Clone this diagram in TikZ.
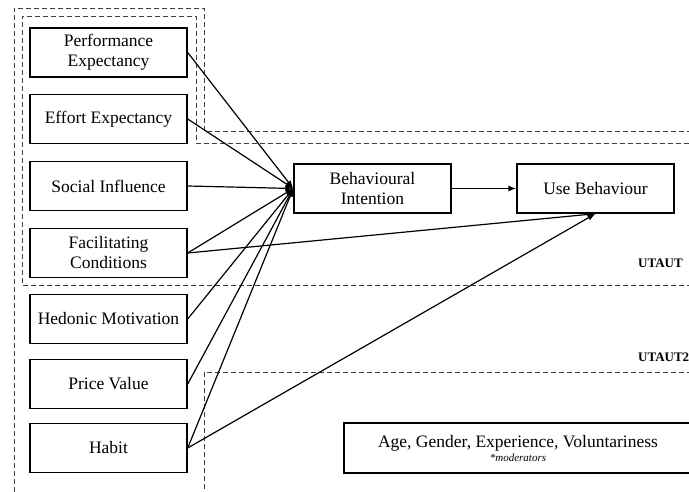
\documentclass[tikz,border=0pt]{standalone}
\usepackage{fontspec}
\setmainfont{Liberation Serif}
\usetikzlibrary{arrows.meta}

\begin{document}
\begin{tikzpicture}[x=1pt,y=-1pt,
    box/.style={draw,line width=1.4pt,minimum width=157pt,minimum height=49pt,align=center,inner sep=2pt,font=\fontsize{17.5}{20}\selectfont},
    link/.style={line width=1.2pt,-{Latex[length=8pt,width=6pt]}},
    zone/.style={draw=black!75,dash pattern=on 5pt off 3pt,line width=0.8pt},
    tag/.style={anchor=west,inner sep=0pt,font=\bfseries\fontsize{13}{15}\selectfont}]
  \useasboundingbox (0,0) rectangle (689,492);
  \clip (0,0) rectangle (689,492);

  % model outlines
  \draw [zone] (14,500) -- (14,8) -- (204,8) -- (204,131) -- (700,131);
  \draw [zone] (700,372) -- (204,372) -- (204,500);
  \draw [zone] (700,285) -- (22,285) -- (22,16) -- (196,16) -- (196,143) -- (700,143);

  \node[box] (pe) at (108.5,52.5) {Performance\\Expectancy};
  \node[box] (ee) at (108.5,119) {Effort Expectancy};
  \node[box] (si) at (108.5,186) {Social Influence};
  \node[box] (fc) at (108.5,253) {Facilitating\\Conditions};
  \node[box] (hm) at (108.5,319) {Hedonic Motivation};
  \node[box] (pv) at (108.5,384) {Price Value};
  \node[box] (hb) at (108.5,448) {Habit};
  \node[box] (bi) at (372.5,188.5) {Behavioural\\Intention};
  \node[box] (ub) at (595.5,188.5) {Use Behaviour};
  \node[box,minimum width=348pt,minimum height=50pt] (mod) at (518,448)
    {Age, Gender, Experience, Voluntariness\\[-6pt]{\itshape\fontsize{11}{12}\selectfont *moderators}};

  \node[tag] (utaut) at (638,263) {UTAUT};
  \node[tag] (utauttwo) at (638,357) {UTAUT2};

  \draw [link] (pe.east) to (bi.west);
  \draw [link] (ee.east) to (bi.west);
  \draw [link] (si.east) to (bi.west);
  \draw [link] (fc.east) to (bi.west);
  \draw [link] (hm.east) to (bi.west);
  \draw [link] (pv.east) to (bi.west);
  \draw [link] (hb.east) to (bi.west);
  \draw [link] (bi) to (ub);
  \draw [link] (fc.east) to (ub.south);
  \draw [link] (hb.east) to (ub.south);

\end{tikzpicture}
\end{document}
